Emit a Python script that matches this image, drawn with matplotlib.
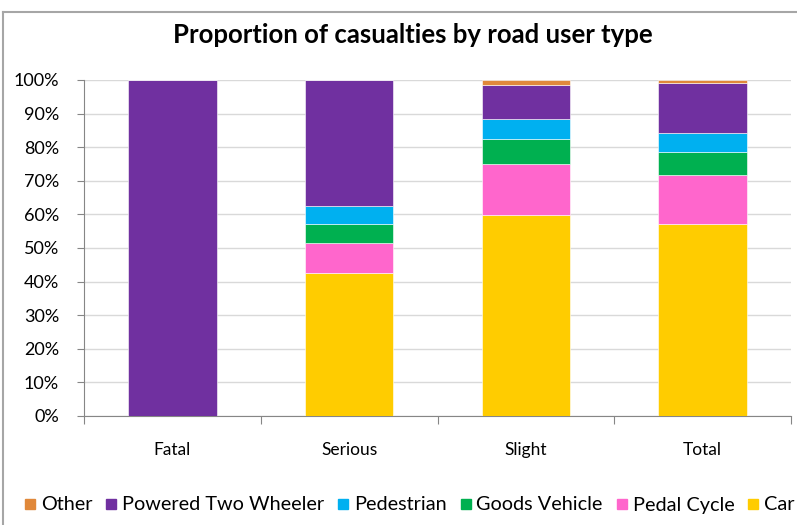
import numpy as np
import matplotlib.pyplot as plt
from matplotlib.lines import Line2D

# data (percent of casualties)
categories = ['Fatal', 'Serious', 'Slight', 'Total']
car = [0.0, 42.5, 59.7, 57.2]
pedal_cycle = [0.0, 9.0, 15.4, 14.4]
goods_vehicle = [0.0, 5.5, 7.3, 7.1]
pedestrian = [0.0, 5.5, 5.9, 5.4]
powered_two_wheeler = [100.0, 37.5, 10.2, 14.9]
other = [0.0, 0.0, 1.5, 1.0]

series = [('Car', car, '#FFCC00'),
          ('Pedal Cycle', pedal_cycle, '#FF66CC'),
          ('Goods Vehicle', goods_vehicle, '#00B050'),
          ('Pedestrian', pedestrian, '#00B0F0'),
          ('Powered Two Wheeler', powered_two_wheeler, '#7030A0'),
          ('Other', other, '#E0883A')]

plt.rcParams['font.family'] = ['Lato', 'DejaVu Sans']

fig = plt.figure(figsize=(7.97, 5.25), dpi=100)
ax = fig.add_axes([84/797, 1-416/525, (791-84)/797, (416-80)/525])

x = np.arange(len(categories))
bottom = np.zeros(len(categories))
for name, vals, col in series:
    vals = np.array(vals)
    ax.bar(x, vals, width=0.5, bottom=bottom, color=col, edgecolor='white',
           linewidth=0.4, label=name, zorder=3)
    bottom += vals

ax.set_xlim(-0.5, len(categories) - 0.5)
ax.set_ylim(0, 100)
ax.set_yticks(np.arange(0, 101, 10))
ax.set_yticklabels(['%d%%' % v for v in range(0, 101, 10)], fontsize=13)
ax.yaxis.grid(True, color='#D9D9D9', linewidth=1, zorder=0)

# category labels centred, ticks on the boundaries
ax.set_xticks(np.arange(-0.5, len(categories), 1))
ax.set_xticklabels([])
ax.set_xticks(x, minor=True)
ax.set_xticklabels(categories, minor=True, fontsize=12.5)
ax.tick_params(axis='x', which='minor', length=0, pad=19)
ax.tick_params(axis='x', which='major', length=6, color='#868686', direction='out')
ax.tick_params(axis='y', length=5, color='#868686', direction='out', pad=13)

for s in ['top', 'right']:
    ax.spines[s].set_visible(False)
for s in ['left', 'bottom']:
    ax.spines[s].set_color('#868686')

fig.text(413/797, 1-35/525, 'Proportion of casualties by road user type',
         ha='center', va='center', fontsize=18.5, fontweight='bold')

# legend in reverse stacking order, clipped at the right like the original
handles = [Line2D([], [], marker='s', linestyle='none', markersize=7.5,
                  markerfacecolor=col, markeredgecolor=col, label=name)
           for name, vals, col in series[::-1]]
fig.legend(handles=handles, loc='center left', bbox_to_anchor=(13/797, 1-505/525),
           ncol=6, frameon=False, fontsize=14.3, handletextpad=0.1,
           columnspacing=0.5, handlelength=0.9, borderaxespad=0)

# chart border (left and top edges visible)
fig.add_artist(Line2D([3/797, 3/797], [0, 1-12/525], color='#A6A6A6', linewidth=1.5))
fig.add_artist(Line2D([3/797, 1], [1-12/525, 1-12/525], color='#A6A6A6', linewidth=1.5))

fig.savefig('out.png', dpi=100)
